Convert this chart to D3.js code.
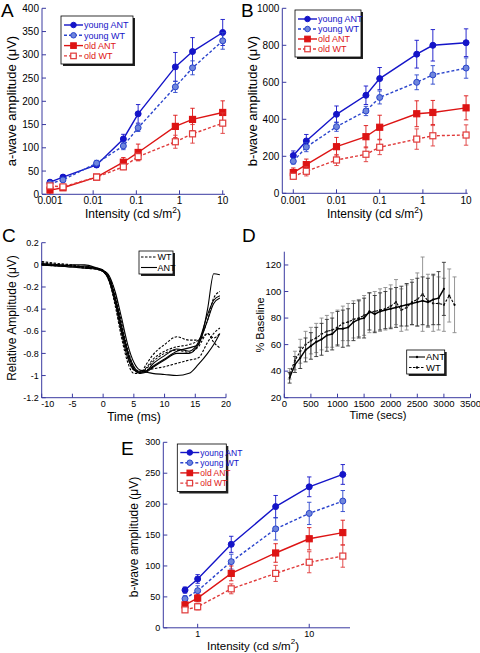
<!DOCTYPE html>
<html><head><meta charset="utf-8">
<script src="https://d3js.org/d3.v7.min.js"></script>
<style>body{margin:0;background:#fff}svg{display:block}text{font-family:"Liberation Sans",Arial,Helvetica,sans-serif}</style>
</head><body><svg id="c" width="480" height="653"></svg>
<script>
// ---------- Panel A data (a-wave) ----------
const intensityA = [0.001, 0.002, 0.012, 0.05, 0.11, 0.8, 2, 10];
const aYoungANT = [26, 37, 63, 119, 173, 274, 307, 348];
const aYoungANTErr = [4, 4, 5, 10, 20, 31, 30, 28];
const aYoungWT = [23, 31, 67, 104, 143, 231, 272, 330];
const aYoungWTErr = [3, 4, 6, 8, 8, 12, 15, 18];
const aOldANT = [9, 14, 37, 69, 90, 146, 161, 176];
const aOldANTErr = [3, 3, 4, 10, 18, 24, 24, 25];
const aOldWT = [18, 16, 37, 59, 81, 113, 130, 153];
const aOldWTErr = [3, 3, 4, 6, 8, 14, 20, 22];
// ---------- Panel B data (b-wave) ----------
const intensityB = [0.001, 0.002, 0.01, 0.048, 0.1, 0.72, 1.7, 10];
const bYoungANT = [204, 283, 427, 530, 620, 752, 800, 814];
const bYoungANTErr = [25, 35, 45, 50, 60, 75, 85, 75];
const bYoungWT = [173, 250, 360, 445, 518, 600, 640, 677];
const bYoungWTErr = [15, 25, 25, 25, 35, 40, 50, 55];
const bOldANT = [112, 155, 252, 306, 357, 430, 437, 462];
const bOldANTErr = [25, 30, 50, 60, 65, 70, 65, 65];
const bOldWT = [92, 119, 180, 211, 249, 293, 311, 315];
const bOldWTErr = [15, 25, 30, 40, 40, 55, 55, 55];
// ---------- Panel C data (normalised a-wave traces) ----------
const timeC = [-10, -7, -5, -3, -1, 0, 1, 2, 3, 4, 5, 6, 7, 8, 10, 12, 14, 15.5, 17, 18, 19];
const antTrace1 = [0.01, 0, -0.01, -0.02, -0.03, -0.05, -0.12, -0.3, -0.55, -0.78, -0.92, -0.97, -0.96, -0.92, -0.85, -0.78, -0.75, -0.72, -0.4, -0.08, -0.09];
const antTrace2 = [0, -0.01, 0, 0, -0.03, -0.05, -0.1, -0.25, -0.48, -0.72, -0.88, -0.95, -0.96, -0.9, -0.82, -0.76, -0.78, -0.7, -0.45, -0.32, -0.28];
const antTrace3 = [0, -0.01, -0.02, -0.01, -0.04, -0.06, -0.13, -0.32, -0.58, -0.8, -0.94, -0.98, -0.97, -0.93, -0.86, -0.8, -0.8, -0.72, -0.5, -0.35, -0.3];
const antTrace4 = [0.01, -0.01, -0.02, -0.03, -0.04, -0.06, -0.15, -0.35, -0.62, -0.84, -0.95, -0.97, -0.97, -0.98, -0.99, -1.0, -0.98, -0.9, -0.8, -0.72, -0.62];
const wtTrace1 = [0.03, 0.01, 0, -0.02, -0.03, -0.05, -0.15, -0.38, -0.66, -0.88, -0.98, -0.98, -0.9, -0.82, -0.72, -0.65, -0.68, -0.68, -0.62, -0.7, -0.75];
const wtTrace2 = [0.02, 0, -0.01, -0.02, -0.03, -0.05, -0.12, -0.3, -0.56, -0.8, -0.94, -0.97, -0.93, -0.86, -0.78, -0.74, -0.72, -0.68, -0.5, -0.3, -0.24];
const wtTrace3 = [0.01, 0, -0.01, -0.03, -0.04, -0.06, -0.14, -0.34, -0.6, -0.83, -0.95, -0.96, -0.95, -0.94, -0.92, -0.89, -0.86, -0.84, -0.7, -0.62, -0.57];
const wtTrace4 = [0, -0.01, -0.01, -0.02, -0.03, -0.05, -0.11, -0.27, -0.52, -0.76, -0.92, -0.96, -0.94, -0.88, -0.8, -0.77, -0.79, -0.74, -0.62, -0.66, -0.62];
// ---------- Panel D data (recovery) ----------
const timeANT = [100,200,300,400,500,600,700,800,900,1000,1100,1200,1300,1400,1500,1600,1700,1800,1900,2000,2100,2200,2300,2400,2500,2600,2700,2800,2900,3000];
const dANT = [35,45,50,56,59,62,64,67,68,72,72,73,77,79,80,85,83,85,86,87,88,89,90,91,92,93,92,94,95,102];
const dANTErr = [4,6,8,9,10,11,12,12,12,13,14,14,14,14,15,14,14,14,14,15,15,15,16,16,18,18,18,19,20,20];
const timeWT = [100,200,300,400,500,600,700,800,900,1000,1100,1200,1300,1400,1500,1600,1700,1800,1900,2000,2100,2200,2300,2400,2500,2600,2700,2800,2900,3000,3100,3200];
const dWT = [38,48,55,60,63,65,68,70,71,73,76,77,79,80,82,84,85,86,87,89,92,86,88,92,94,98,93,91,91,90,97,90];
const dWTErr = [4,7,9,10,10,11,12,12,13,13,13,14,14,14,15,15,15,16,16,16,17,16,17,17,20,28,20,21,20,20,20,21];
// ---------- Panel E data (b-wave, photopic) ----------
const intensityE = [0.77, 1, 2, 5, 10, 20];
const eYoungANT = [61, 79, 135, 196, 228, 248];
const eYoungANTErr = [5, 7, 13, 18, 16, 16];
const eYoungWT = [47, 60, 107, 160, 185, 205];
const eYoungWTErr = [5, 8, 12, 18, 18, 17];
const eOldANT = [37, 48, 88, 121, 144, 154];
const eOldANTErr = [5, 6, 12, 15, 18, 20];
const eOldWT = [29, 34, 63, 88, 106, 116];
const eOldWTErr = [4, 5, 8, 13, 17, 18];
const groupLabels = ["young ANT", "young WT", "old ANT", "old WT"];

const svg = d3.select("#c");
const AX = "#3a3aa0";
const styles = [
  {stroke:"#1414c8", fill:"#1414c8", dash:null, shape:"circle", text:"#1414c8"},
  {stroke:"#2a44cc", fill:"#6f86dc", dash:"3,2", shape:"circle", text:"#1414c8"},
  {stroke:"#dd1414", fill:"#dd1414", dash:null, shape:"square", text:"#dd1414"},
  {stroke:"#e03a3a", fill:"#ffffff", dash:"3,2", shape:"square", text:"#dd1414"}
];

function marker(g, shape, cx, cy, st, size) {
  if (shape === "circle") {
    g.append("circle").attr("cx", cx).attr("cy", cy).attr("r", size/2)
      .attr("fill", st.fill).attr("stroke", st.stroke).attr("stroke-width", 1);
  } else {
    g.append("rect").attr("x", cx - size/2).attr("y", cy - size/2).attr("width", size).attr("height", size)
      .attr("fill", st.fill).attr("stroke", st.stroke).attr("stroke-width", 1.2);
  }
}

function drawAxes(x, y, xTicks, yTicks, xFmt, yFmt, fs, xLabOff, yLabOff, xShift) {
  const g = svg.append("g");
  const [x0, x1] = x.range(); const [y0, y1] = y.range();
  g.append("line").attr("x1", x0).attr("x2", x1).attr("y1", y0).attr("y2", y0).attr("stroke", AX);
  g.append("line").attr("x1", x0).attr("x2", x0).attr("y1", y0).attr("y2", y1).attr("stroke", AX);
  xTicks.forEach((t, i) => {
    const px = x(t);
    g.append("line").attr("x1", px).attr("x2", px).attr("y1", y0).attr("y2", y0 - 4).attr("stroke", AX);
    g.append("text").attr("x", px + (xShift ? xShift(i) : 0)).attr("y", y0 + xLabOff).attr("text-anchor", "middle")
      .attr("font-size", fs).text(xFmt(t));
  });
  yTicks.forEach(t => {
    const py = y(t);
    g.append("line").attr("x1", x0).attr("x2", x0 + 4).attr("y1", py).attr("y2", py).attr("stroke", AX);
    g.append("text").attr("x", x0 - yLabOff).attr("y", py + fs*0.35).attr("text-anchor", "end")
      .attr("font-size", fs).text(yFmt(t));
  });
}

function intensityLabel(cx, y, fs) {
  const t = svg.append("text").attr("x", cx).attr("y", y).attr("text-anchor", "middle").attr("font-size", fs);
  t.append("tspan").text("Intensity (cd s/m");
  t.append("tspan").attr("dy", -fs*0.45).attr("font-size", fs*0.7).text("2");
  t.append("tspan").attr("dy", fs*0.45).text(")");
}
function yLabel(cx, cy, txt, fs) {
  svg.append("text").attr("transform", `translate(${cx},${cy}) rotate(-90)`).attr("text-anchor", "middle")
    .attr("font-size", fs).text(txt);
}
function panelLetter(x, y, l) {
  svg.append("text").attr("x", x).attr("y", y).attr("font-size", 19).text(l);
}

function legendBox(x, y, w, h) {
  svg.append("rect").attr("x", x + 2).attr("y", y + 2).attr("width", w).attr("height", h).attr("fill", "#222");
  svg.append("rect").attr("x", x).attr("y", y).attr("width", w).attr("height", h).attr("fill", "#fff").attr("stroke", "#000").attr("stroke-width", 0.8);
}

function groupPanel(cfg) {
  const x = d3.scaleLog().domain(cfg.xDom).range(cfg.xRange);
  const y = d3.scaleLinear().domain(cfg.yDom).range(cfg.yRange);
  drawAxes(x, y, cfg.xTicks, cfg.yTicks, cfg.xFmt, d => d, cfg.tickFs, cfg.xLabOff, 3);
  const g = svg.append("g");
  cfg.series.forEach((s, i) => {
    const st = styles[i];
    const pts = cfg.xs.map((v, k) => [v, s.v[k], s.e[k]]);
    pts.forEach(p => {
      const px = x(p[0]);
      g.append("line").attr("x1", px).attr("x2", px).attr("y1", y(p[1] - p[2])).attr("y2", y(p[1] + p[2]))
        .attr("stroke", st.stroke).attr("stroke-width", 0.9);
      [p[1] - p[2], p[1] + p[2]].forEach(v => g.append("line").attr("x1", px - 2.2).attr("x2", px + 2.2)
        .attr("y1", y(v)).attr("y2", y(v)).attr("stroke", st.stroke).attr("stroke-width", 0.9));
    });
    g.append("path").attr("d", d3.line().x(p => x(p[0])).y(p => y(p[1]))(pts))
      .attr("fill", "none").attr("stroke", st.stroke).attr("stroke-width", 1.4)
      .attr("stroke-dasharray", st.dash);
    pts.forEach(p => marker(g, st.shape, x(p[0]), y(p[1]), st, cfg.mSize));
  });
  const L = cfg.legend;
  legendBox(L.x, L.y, L.w, L.h);
  groupLabels.forEach((lab, i) => {
    const st = styles[i];
    const yy = L.y + L.top + i * L.step;
    svg.append("line").attr("x1", L.x + 3).attr("x2", L.x + 22).attr("y1", yy).attr("y2", yy)
      .attr("stroke", st.stroke).attr("stroke-width", 1.4).attr("stroke-dasharray", st.dash);
    marker(svg, st.shape, L.x + 12.5, yy, st, cfg.mSize - 0.5);
    svg.append("text").attr("x", L.x + 23).attr("y", yy + 3.3).attr("font-size", L.fs).attr("fill", st.text).text(lab);
  });
}

// ===== Panel A =====
groupPanel({
  xDom: [0.000653, 11.3], xRange: [42, 225], yDom: [0, 400], yRange: [194.3, 8.3],
  xTicks: [0.001, 0.01, 0.1, 1, 10], yTicks: d3.range(0, 401, 50), xFmt: d => String(d),
  tickFs: 10, xLabOff: 10, mSize: 6,
  xs: intensityA,
  series: [{v:aYoungANT, e:aYoungANTErr}, {v:aYoungWT, e:aYoungWTErr}, {v:aOldANT, e:aOldANTErr}, {v:aOldWT, e:aOldWTErr}],
  legend: {x: 61, y: 16, w: 72, h: 48, top: 9, step: 10.3, fs: 9}
});
intensityLabel(133, 218, 12);
yLabel(16, 101, "a-wave amplitude (\u03bcV)", 13);
panelLetter(1, 17, "A");

// ===== Panel B =====
groupPanel({
  xDom: [0.000556, 10.9], xRange: [282.3, 467.7], yDom: [0, 1000], yRange: [193.3, 8.3],
  xTicks: [0.001, 0.01, 0.1, 1, 10], yTicks: d3.range(0, 1001, 200), xFmt: d => String(d),
  tickFs: 10, xLabOff: 10.5, mSize: 6,
  xs: intensityB,
  series: [{v:bYoungANT, e:bYoungANTErr}, {v:bYoungWT, e:bYoungWTErr}, {v:bOldANT, e:bOldANTErr}, {v:bOldWT, e:bOldWTErr}],
  legend: {x: 295, y: 10, w: 66, h: 47, top: 9, step: 10, fs: 9}
});
intensityLabel(375, 218, 12);
yLabel(257, 101, "b-wave amplitude (\u03bcV)", 13);
panelLetter(241, 17, "B");

// ===== Panel C =====
(function(){
  const x = d3.scaleLinear().domain([-10, 20]).range([41.7, 226]);
  const y = d3.scaleLinear().domain([-1.2, 0.2]).range([397.7, 242.7]);
  drawAxes(x, y, d3.range(-10, 21, 5), [-1.2,-1,-0.8,-0.6,-0.4,-0.2,0,0.2], d => d, d => +d.toFixed(1), 9, 9.5, 3,
    i => i === 0 ? 6 : 0);
  const line = d3.line().x((d, i) => x(timeC[i])).y(d => y(d)).curve(d3.curveMonotoneX);
  [antTrace1, antTrace2, antTrace3, antTrace4].forEach(tr => svg.append("path").attr("d", line(tr))
    .attr("fill", "none").attr("stroke", "#000").attr("stroke-width", 1.1));
  [wtTrace1, wtTrace2, wtTrace3, wtTrace4].forEach(tr => svg.append("path").attr("d", line(tr))
    .attr("fill", "none").attr("stroke", "#000").attr("stroke-width", 1.1).attr("stroke-dasharray", "2.5,1.5"));
  legendBox(139, 251, 34, 23);
  [["WT", "2.5,1.5"], ["ANT", null]].forEach((l, i) => {
    const yy = 257 + i * 10.5;
    svg.append("line").attr("x1", 141).attr("x2", 157).attr("y1", yy).attr("y2", yy).attr("stroke", "#000")
      .attr("stroke-width", 1.1).attr("stroke-dasharray", l[1]);
    svg.append("text").attr("x", 157.5).attr("y", yy + 3.2).attr("font-size", 9).text(l[0]);
  });
  svg.append("text").attr("x", 134).attr("y", 421).attr("text-anchor", "middle").attr("font-size", 12).text("Time (ms)");
  yLabel(16, 318, "Relative Amplitude (\u03bcV)", 12);
  panelLetter(2, 242, "C");
})();

// ===== Panel D =====
(function(){
  const x = d3.scaleLinear().domain([0, 3500]).range([284.3, 470.5]);
  const y = d3.scaleLinear().domain([20, 130]).range([397.7, 251.7]);
  drawAxes(x, y, d3.range(0, 3501, 500), d3.range(20, 121, 20), d => d, d => d, 9.5, 9.5, 3);
  function series(ts, vs, es, dash, ecol) {
    ts.forEach((t, i) => {
      const px = x(t);
      svg.append("line").attr("x1", px).attr("x2", px).attr("y1", y(vs[i] - es[i])).attr("y2", y(vs[i] + es[i]))
        .attr("stroke", ecol).attr("stroke-width", 0.9);
      [vs[i] - es[i], vs[i] + es[i]].forEach(v => svg.append("line").attr("x1", px - 2).attr("x2", px + 2)
        .attr("y1", y(v)).attr("y2", y(v)).attr("stroke", ecol).attr("stroke-width", 0.9));
    });
    svg.append("path").attr("d", d3.line().x((d, i) => x(ts[i])).y(d => y(d))(vs))
      .attr("fill", "none").attr("stroke", "#000").attr("stroke-width", dash ? 1.1 : 1.5).attr("stroke-dasharray", dash);
    ts.forEach((t, i) => svg.append("circle").attr("cx", x(t)).attr("cy", y(vs[i])).attr("r", 1.1).attr("fill", "#000"));
  }
  series(timeWT, dWT, dWTErr, "2.5,1.5", "#8a8a8a");
  series(timeANT, dANT, dANTErr, null, "#333");
  legendBox(406.7, 350, 38, 24);
  [["ANT", null], ["WT", "2.5,1.5"]].forEach((l, i) => {
    const yy = 357 + i * 10.5;
    svg.append("line").attr("x1", 409).attr("x2", 425).attr("y1", yy).attr("y2", yy).attr("stroke", "#000")
      .attr("stroke-width", 1.1).attr("stroke-dasharray", l[1]);
    svg.append("circle").attr("cx", 417).attr("cy", yy).attr("r", 1.2).attr("fill", "#000");
    svg.append("text").attr("x", 426).attr("y", yy + 3.3).attr("font-size", 9.5).text(l[0]);
  });
  svg.append("text").attr("x", 378).attr("y", 419).attr("text-anchor", "middle").attr("font-size", 11).text("Time (secs)");
  yLabel(264, 325, "% Baseline", 11);
  panelLetter(242, 242, "D");
})();

// ===== Panel E =====
groupPanel({
  xDom: [0.492, 23.2], xRange: [163.3, 350], yDom: [0, 300], yRange: [627.8, 442.3],
  xTicks: [1, 10], yTicks: d3.range(0, 301, 50), xFmt: d => String(d),
  tickFs: 9, xLabOff: 9.5, mSize: 6,
  xs: intensityE,
  series: [{v:eYoungANT, e:eYoungANTErr}, {v:eYoungWT, e:eYoungWTErr}, {v:eOldANT, e:eOldANTErr}, {v:eOldWT, e:eOldWTErr}],
  legend: {x: 177.3, y: 444, w: 49, h: 47.5, top: 8.5, step: 10.2, fs: 8.5}
});
intensityLabel(253, 649.5, 11.5);
yLabel(138, 537, "b-wave amplitude (\u03bcV)", 12);
panelLetter(121, 455, "E");
</script></body></html>
